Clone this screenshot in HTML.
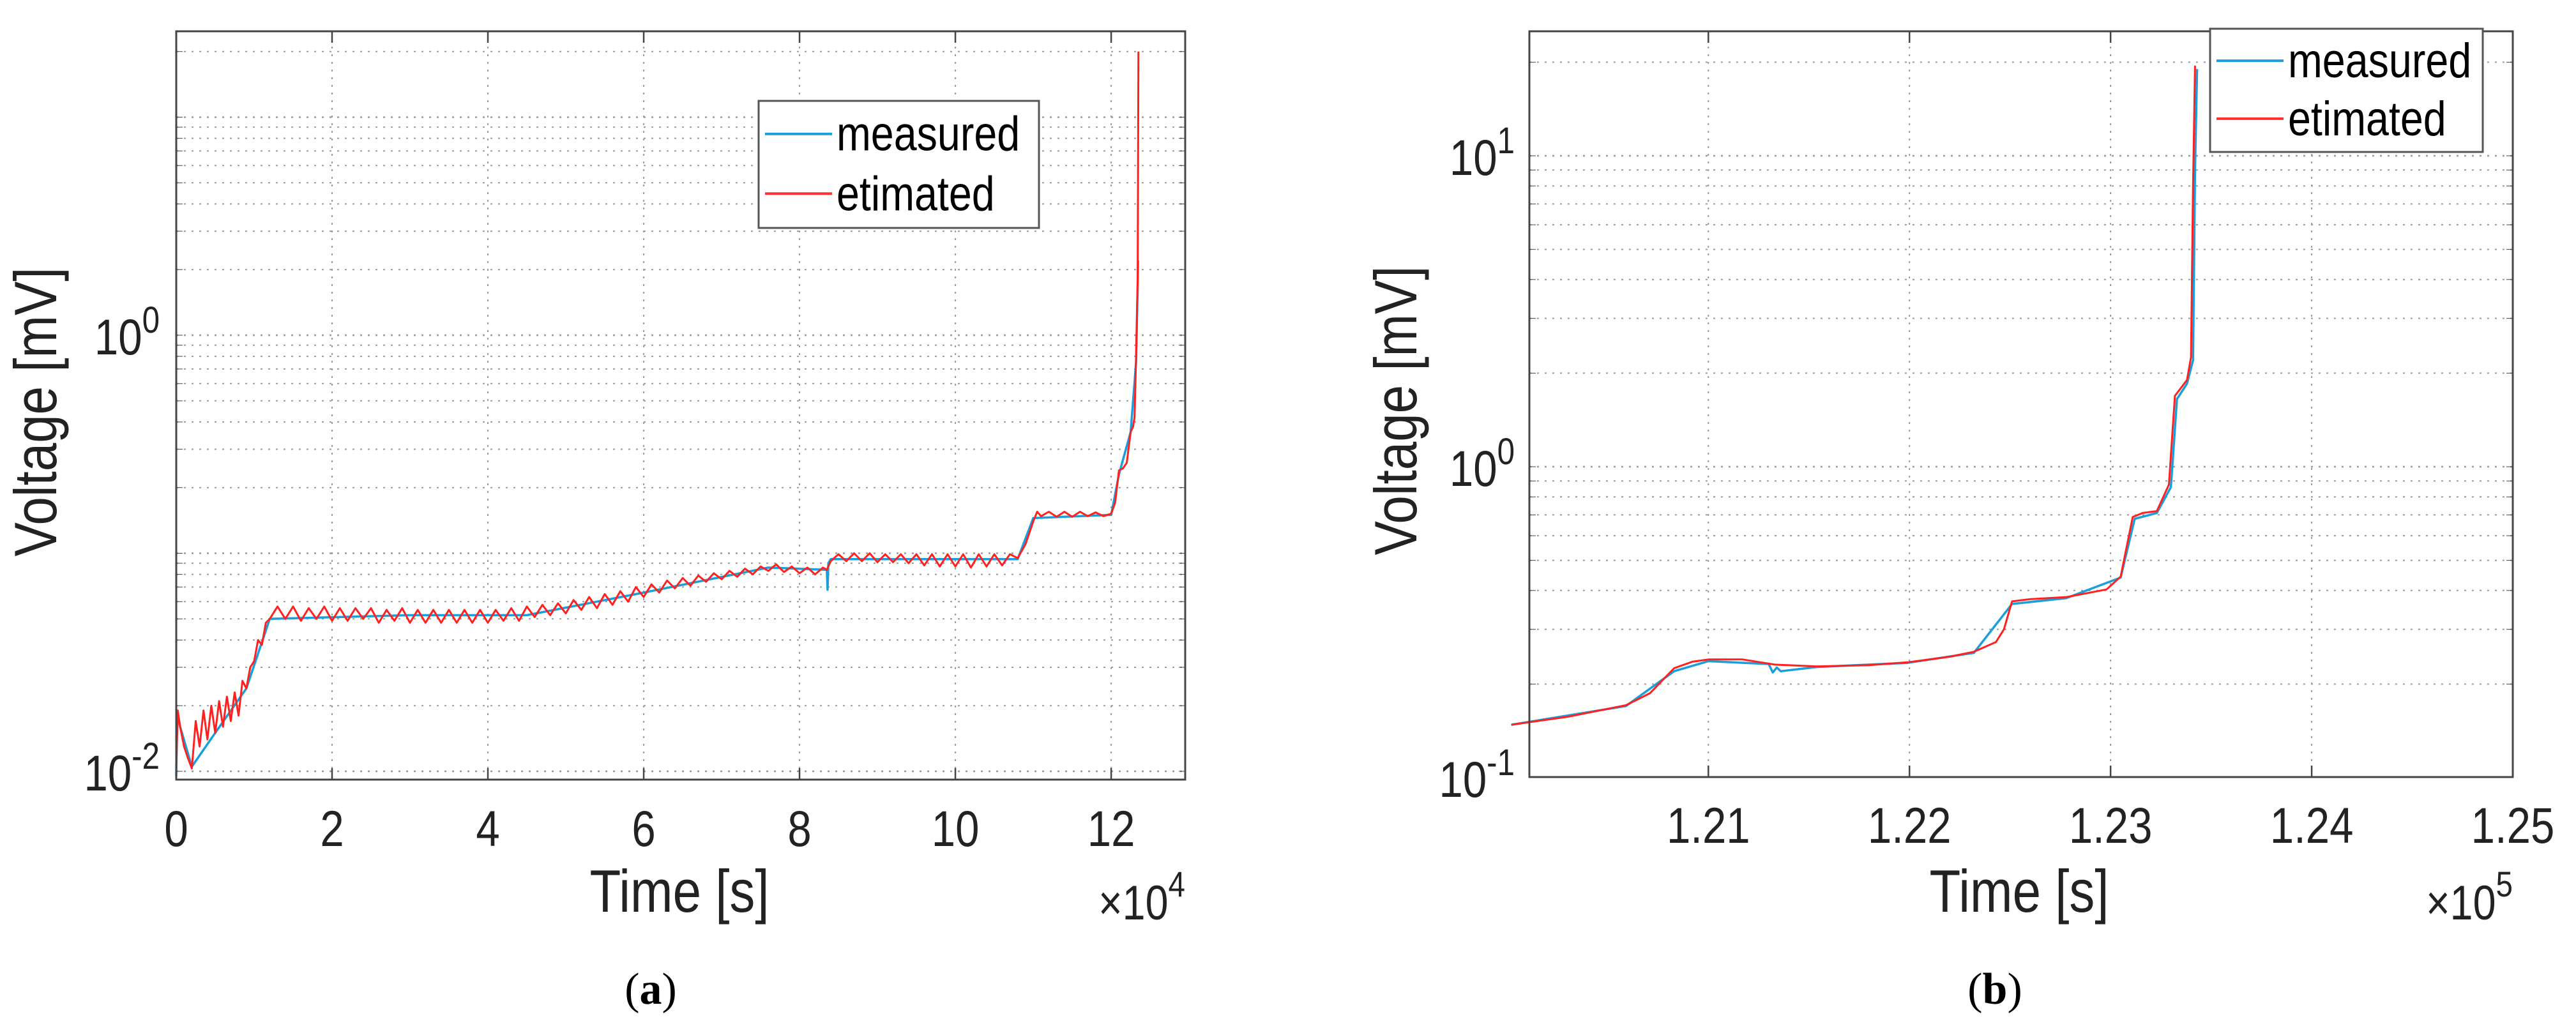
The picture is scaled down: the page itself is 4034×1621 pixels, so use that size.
<!DOCTYPE html>
<html><head><meta charset="utf-8"><style>
html,body{margin:0;padding:0;background:#fff;}
svg{display:block;font-family:"Liberation Sans",Arial,sans-serif;}
</style></head><body>
<svg id="fig" width="4034" height="1621" viewBox="0 0 4034 1621" xmlns="http://www.w3.org/2000/svg"></svg>
<script>
// ---------- Panel (a) data (time in 1e4 s, voltage in mV) ----------
const estA_t = [0,0.02,0.05,0.1,0.15,0.2,0.25,0.3,0.35,0.4,0.45,0.5,0.55,0.6,0.65,0.7,0.75,0.8,0.85,0.9,0.95,1.0,1.05,1.1,1.15,1.2,
1.3,1.4,1.5,1.6,1.7,1.8,1.9,2.0,2.1,2.2,2.3,2.4,2.5,2.6,2.7,2.8,2.9,3.0,3.1,3.2,3.3,3.4,3.5,3.6,3.7,3.8,3.9,4.0,4.1,4.2,4.3,4.4,4.5,
4.6,4.7,4.8,4.9,5.0,5.1,5.2,5.3,5.4,5.5,5.6,5.7,5.8,5.9,6.0,6.1,6.2,6.3,6.4,6.5,6.6,6.7,6.8,6.9,7.0,7.1,7.2,7.3,7.4,7.5,7.6,7.7,7.8,7.9,8.0,8.1,8.2,8.3,8.35,8.4,
8.5,8.6,8.7,8.8,8.9,9.0,9.1,9.2,9.3,9.4,9.5,9.6,9.7,9.8,9.9,10.0,10.1,10.2,10.3,10.4,10.5,10.6,10.7,10.8,10.9,11.0,11.05,11.1,11.2,11.3,11.4,11.5,11.6,11.7,11.8,11.9,12.0,12.05,12.1,12.15,12.2,12.25,12.28,12.3,12.32,12.34,12.35];
const estA_v = [0.0102,0.019,0.016,0.013,0.0115,0.0103,0.017,0.013,0.019,0.014,0.02,0.015,0.021,0.016,0.022,0.017,0.023,0.018,0.026,0.024,0.03,0.032,0.04,0.038,0.048,0.05,
0.057,0.050,0.057,0.049,0.056,0.050,0.057,0.049,0.056,0.049,0.056,0.050,0.056,0.048,0.055,0.049,0.056,0.048,0.055,0.048,0.055,0.048,0.055,0.048,0.055,0.048,0.055,0.048,0.055,0.049,0.056,0.049,0.057,
0.051,0.058,0.052,0.059,0.053,0.061,0.055,0.063,0.056,0.065,0.058,0.067,0.060,0.070,0.063,0.072,0.066,0.075,0.069,0.077,0.071,0.079,0.074,0.081,0.076,0.083,0.078,0.085,0.080,0.087,0.083,0.089,0.082,0.087,0.081,0.086,0.080,0.086,0.084,0.092,
0.099,0.092,0.100,0.092,0.100,0.091,0.099,0.091,0.099,0.090,0.099,0.088,0.099,0.087,0.099,0.087,0.099,0.086,0.099,0.087,0.099,0.088,0.099,0.095,0.11,0.14,0.155,0.148,0.155,0.147,0.155,0.147,0.155,0.148,0.154,0.148,0.152,0.17,0.24,0.245,0.26,0.36,0.38,0.42,0.8,1.8,20];
const measA_t = [0,0.01,0.05,0.2,0.5,0.9,1.2,3,4.5,6,7.6,8.35,8.36,8.37,8.4,10.8,11.0,12.0,12.1,12.25,12.32,12.34,12.345];
const measA_v = [0.0095,0.019,0.016,0.0105,0.015,0.024,0.05,0.052,0.052,0.066,0.086,0.084,0.068,0.09,0.094,0.094,0.145,0.15,0.23,0.36,0.75,1.7,2.2];
const ticksA_x = [0,2,4,6,8,10,12];
const ticksA_xl = ["0","2","4","6","8","10","12"];

// ---------- Panel (b) data (time in 1e5 s, voltage in mV) ----------
const estB_t = [1.2002,1.2030,1.2059,1.2071,1.2083,1.2092,1.2100,1.2117,1.2133,1.2154,1.2180,1.2199,1.2220,1.2232,1.2243,1.2247,1.2251,1.2260,1.2278,1.2298,1.2305,1.2311,1.2316,1.2323,1.2329,1.2332,1.2338,1.2340,1.2341,1.2342];
const estB_v = [0.148,0.157,0.171,0.187,0.225,0.236,0.240,0.240,0.231,0.228,0.230,0.235,0.245,0.254,0.273,0.30,0.369,0.375,0.381,0.403,0.443,0.689,0.71,0.72,0.876,1.69,1.9,2.25,8,19.5];
const measB_t = [1.2002,1.2059,1.2083,1.2100,1.2130,1.2132,1.2134,1.2136,1.2154,1.2199,1.2232,1.2251,1.2278,1.2305,1.2312,1.2323,1.2330,1.2333,1.2338,1.2341,1.2342,1.2343];
const measB_v = [0.148,0.170,0.220,0.237,0.232,0.218,0.226,0.220,0.227,0.234,0.252,0.362,0.378,0.44,0.68,0.71,0.86,1.65,1.85,2.2,9,19];
const ticksB_x = [1.21,1.22,1.23,1.24,1.25];
const ticksB_xl = ["1.21","1.22","1.23","1.24","1.25"];

const NS = "http://www.w3.org/2000/svg";
const svg = document.getElementById('fig');
function mk(tag, attrs, parent){ const e=document.createElementNS(NS,tag); for(const k in attrs) e.setAttribute(k,attrs[k]); (parent||svg).appendChild(e); return e; }

function panel(cfg){
  const g = mk('g',{});
  
  
  const L=cfg.L,R=cfg.R,T=cfg.T,B=cfg.B;
  const sx = t => L + (t-cfg.x0)/(cfg.x1-cfg.x0)*(R-L);
  const sy = v => cfg.yRef - cfg.dec*(Math.log10(v)-cfg.refExp);
  // minor/major horizontal grid
  const grid = mk('g',{stroke:'#9a9a9a','stroke-width':2,'stroke-dasharray':'3,9',fill:'none'},g);
  
  
  for(let e=cfg.e0;e<=cfg.e1;e++){
    for(let m=1;m<=9;m++){
      const y = sy(m*Math.pow(10,e));
      if(y<T+2||y>B-2) continue;
      mk('line',{x1:L,x2:R,y1:y,y2:y,'stroke-width':m===1?2.5:2},grid);
      mk('line',{x1:L,x2:L+10,y1:y,y2:y,stroke:'#444','stroke-dasharray':'none'},g);
      mk('line',{x1:R,x2:R-10,y1:y,y2:y,stroke:'#444','stroke-dasharray':'none'},g);
    }
  }
  cfg.ticks.forEach((t,i)=>{
    const x=sx(t);
    if(x>L+2&&x<R-2){ mk('line',{x1:x,x2:x,y1:T,y2:B},grid); }
    mk('line',{x1:x,x2:x,y1:B,y2:B-18,stroke:'#444','stroke-width':2.5},g);
    mk('line',{x1:x,x2:x,y1:T,y2:T+18,stroke:'#444','stroke-width':2.5},g);
    const tx = mk('text',{transform:`translate(${x},${cfg.tickY}) scale(0.85,1)`,'text-anchor':'middle','font-size':79,fill:'#222'},g);
    tx.textContent = cfg.tickL[i];
    
    
  });
  // y labels
  cfg.yLabels.forEach(e=>{
    const y=sy(Math.pow(10,e));
    const tx = mk('text',{transform:`translate(${cfg.yLabX},${y+30}) scale(0.85,1)`,'text-anchor':'end','font-size':79,fill:'#222'},g);
    
    
    tx.appendChild(document.createTextNode('10'));
    const sp=document.createElementNS(NS,'tspan'); sp.setAttribute('dy','-34'); sp.setAttribute('font-size','58'); sp.textContent=String(e); tx.appendChild(sp);
  });
  // series
  const path = (ts,vs)=> ts.map((t,i)=>(i?'L':'M')+sx(t).toFixed(1)+','+sy(vs[i]).toFixed(1)).join(' ');
  const pm = mk('path',{d:path(cfg.mt,cfg.mv),fill:'none',stroke:'#1a9fdc','stroke-width':3.5,'stroke-linejoin':'round'},g);
  
  
  const pe = mk('path',{d:path(cfg.et,cfg.ev),fill:'none',stroke:'#ff2020','stroke-width':3,'stroke-linejoin':'round'},g);
  
  
  // axes box
  const box = mk('rect',{x:L,y:T,width:R-L,height:B-T,fill:'none',stroke:'#444','stroke-width':3},g);
  
  
  // legend
  const lg = mk('g',{},g);
  
  
  const lb=cfg.leg;
  mk('rect',{x:lb.x,y:lb.y,width:lb.w,height:lb.h,fill:'#fff',stroke:'#555','stroke-width':3},lg);
  mk('line',{x1:lb.x+10,x2:lb.x+115,y1:lb.y+lb.h*0.26,y2:lb.y+lb.h*0.26,stroke:'#1a9fdc','stroke-width':4},lg);
  mk('line',{x1:lb.x+10,x2:lb.x+115,y1:lb.y+lb.h*0.73,y2:lb.y+lb.h*0.73,stroke:'#ff3030','stroke-width':4},lg);
  const t1=mk('text',{transform:`translate(${lb.x+122},${lb.y+lb.h*0.26+26}) scale(0.85,1)`,'font-size':76,fill:'#000'},lg); t1.textContent='measured';
  
  
  const t2=mk('text',{transform:`translate(${lb.x+122},${lb.y+lb.h*0.73+26}) scale(0.85,1)`,'font-size':76,fill:'#000'},lg); t2.textContent='etimated';
  
  
  // axis titles
  const yt=mk('text',{transform:`translate(${cfg.yTitleX},${(T+B)/2+10}) rotate(-90) scale(0.85,1)`,'text-anchor':'middle','font-size':94,fill:'#222'},g);
  yt.textContent='Voltage [mV]';
  
  
  const xt=mk('text',{transform:`translate(${cfg.xTitleX},${1428}) scale(0.85,1)`,'text-anchor':'middle','font-size':94,fill:'#222'},g);
  xt.textContent='Time [s]';
  
  
  const mx=mk('text',{transform:`translate(${R},${1440}) scale(0.85,1)`,'text-anchor':'end','font-size':76,fill:'#222'},g);
  
  
  mx.appendChild(document.createTextNode('\u00d710'));
  const sp=document.createElementNS(NS,'tspan'); sp.setAttribute('dy','-36'); sp.setAttribute('font-size','56'); sp.textContent=cfg.mult; mx.appendChild(sp);
  const cap=mk('text',{x:cfg.capX,y:1572,'text-anchor':'middle','font-size':70,'font-family':'"Liberation Serif",serif',fill:'#000'},g);
  
  
  cap.appendChild(document.createTextNode('('));
  const b=document.createElementNS(NS,'tspan'); b.setAttribute('font-weight','bold'); b.textContent=cfg.cap; cap.appendChild(b);
  cap.appendChild(document.createTextNode(')'));
}

panel({name:'panel-a',L:276,R:1856,T:49,B:1221,x0:0,x1:12.95,yRef:1208,refExp:-2,dec:341.5,e0:-3,e1:2,
  ticks:ticksA_x,tickL:ticksA_xl,tickY:1325,yLabels:[0,-2],yLabX:250,
  et:estA_t,ev:estA_v,mt:measA_t,mv:measA_v,
  leg:{x:1188,y:158,w:439,h:199},yTitleX:88,xTitleX:1064,mult:'4',capX:1019,cap:'a'});
panel({name:'panel-b',L:2395,R:3935,T:49,B:1217,x0:1.2011,x1:1.25,yRef:731,refExp:0,dec:487,e0:-2,e1:2,
  ticks:ticksB_x,tickL:ticksB_xl,tickY:1320,yLabels:[1,0,-1],yLabX:2372,
  et:estB_t,ev:estB_v,mt:measB_t,mv:measB_v,
  leg:{x:3461,y:45,w:427,h:193},yTitleX:2218,xTitleX:3162,mult:'5',capX:3124,cap:'b'});
</script>
</body></html>
